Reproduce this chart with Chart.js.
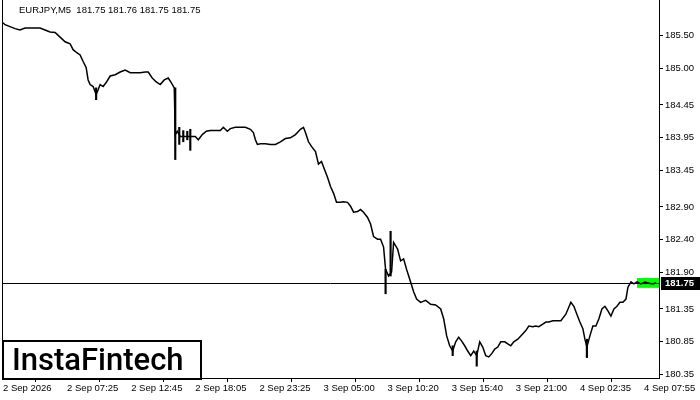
<!DOCTYPE html>
<html>
<head>
<meta charset="utf-8">
<script src="https://cdn.jsdelivr.net/npm/chart.js@4.4.1/dist/chart.umd.min.js"></script>
<style>
  html, body { margin: 0; padding: 0; background: #fff; }
  #wrap { width: 700px; height: 400px; }
</style>
</head>
<body>
<div id="wrap"><canvas id="price-chart" width="700" height="400"></canvas></div>
<script>
// Chart data (bar index = one M5 bar)
const symbolTitle = "EURJPY,M5  181.75 181.76 181.75 181.75";
const lastPrice = 181.75;

const timeTickIdx = [0, 64, 128, 192, 256, 320, 384, 448, 512, 576, 640];
const timeTickLabels = ["2 Sep 2026", "2 Sep 07:25", "2 Sep 12:45", "2 Sep 18:05", "2 Sep 23:25",
  "3 Sep 05:00", "3 Sep 10:20", "3 Sep 15:40", "3 Sep 21:00", "4 Sep 02:35", "4 Sep 07:55"];
const priceTicks = [185.50, 185.00, 184.45, 183.95, 183.45, 182.90, 182.40, 181.90, 181.35, 180.85, 180.35];

// closes
const barIdx = [0, 2, 7, 12, 17, 22, 27, 32, 37, 42, 47, 52, 57, 62, 67, 70, 74, 77, 80, 83,
  85, 87, 90, 93, 95, 97, 100, 103, 107, 112, 117, 122, 127, 132, 137, 142, 145, 149, 153, 157,
  161, 165, 168, 171, 172, 174, 177, 182, 187, 192, 195, 199, 203, 207, 212, 217, 220, 224, 227, 232,
  237, 242, 247, 250, 252, 254, 257, 262, 267, 272, 277, 282, 287, 292, 297, 300, 302, 305, 308, 312,
  315, 318, 321, 324, 327, 330, 333, 337, 340, 344, 347, 350, 354, 357, 360, 364, 367, 370, 374, 377,
  380, 382, 385, 388, 390, 394, 397, 400, 403, 407, 410, 413, 417, 422, 427, 432, 437, 440, 443, 446,
  449, 452, 455, 458, 461, 464, 467, 470, 473, 476, 479, 482, 485, 488, 491, 494, 497, 501, 504, 507,
  510, 514, 517, 522, 525, 529, 532, 535, 539, 542, 545, 549, 552, 557, 562, 565, 567, 570, 573, 576,
  579, 581, 583, 586, 589, 592, 595, 598, 601, 604, 607, 610, 613, 616, 619, 622, 624, 627, 630, 633,
  637, 641, 645, 649, 652];
const closePrice = [185.70, 185.67, 185.64, 185.61, 185.59, 185.62, 185.62, 185.62, 185.62, 185.59, 185.56, 185.55, 185.48, 185.41, 185.38, 185.29, 185.24, 185.21, 185.11, 185.02,
  184.83, 184.76, 184.73, 184.61, 184.68, 184.76, 184.73, 184.79, 184.89, 184.91, 184.95, 184.98, 184.94, 184.94, 184.94, 184.95, 184.95, 184.86, 184.80, 184.76,
  184.83, 184.86, 184.79, 184.71, 184.00, 184.05, 183.97, 183.97, 183.97, 183.97, 183.92, 184.00, 184.05, 184.06, 184.06, 184.06, 184.11, 184.05, 184.09, 184.11,
  184.11, 184.11, 184.08, 184.03, 183.92, 183.85, 183.86, 183.86, 183.85, 183.85, 183.89, 183.94, 183.95, 184.00, 184.08, 184.11, 184.03, 183.89, 183.82, 183.74,
  183.55, 183.59, 183.47, 183.35, 183.21, 183.11, 182.97, 182.97, 182.98, 182.97, 182.91, 182.82, 182.83, 182.86, 182.82, 182.74, 182.64, 182.45, 182.41, 182.41,
  182.29, 181.95, 181.85, 181.91, 182.36, 182.26, 182.08, 182.11, 181.95, 181.76, 181.61, 181.50, 181.45, 181.48, 181.42, 181.41, 181.35, 181.20, 180.94, 180.79,
  180.71, 180.85, 180.92, 180.86, 180.79, 180.71, 180.64, 180.71, 180.64, 180.85, 180.77, 180.64, 180.62, 180.67, 180.74, 180.77, 180.85, 180.85, 180.82, 180.79,
  180.85, 180.89, 180.94, 181.02, 181.09, 181.08, 181.09, 181.08, 181.12, 181.15, 181.15, 181.17, 181.17, 181.17, 181.27, 181.38, 181.45, 181.39, 181.27, 181.15,
  181.05, 180.89, 180.77, 180.94, 181.09, 181.09, 181.20, 181.35, 181.39, 181.32, 181.24, 181.35, 181.39, 181.45, 181.45, 181.50, 181.68, 181.76, 181.73, 181.76,
  181.73, 181.76, 181.74, 181.73, 181.75];

// a few visible high/low wicks
const wickIdx = [93, 172, 176, 180, 184, 187, 382, 387, 449, 473, 583];
const wickLow = [184.53, 183.62, 183.85, 183.89, 183.92, 183.76, 181.58, 181.85, 180.64, 180.48, 180.61];
const wickHigh = [184.71, 184.71, 184.11, 184.06, 184.05, 184.08, 181.95, 182.53, 180.79, 180.71, 180.89];

// green quote band at the right end
const bandFromIdx = 633;
const bandHigh = 181.82;
const bandLow = 181.67;

const textFont = "'Liberation Sans', Arial, sans-serif";

// Draws frame, price line, quote band, title and logo
const decorPlugin = {
  id: 'decor',
  beforeDatasetsDraw(chart) {
    const { ctx, chartArea, scales } = chart;
    ctx.save();
    // quote band
    const bx = scales.x.getPixelForValue(bandFromIdx);
    const by1 = scales.y.getPixelForValue(bandHigh);
    const by2 = scales.y.getPixelForValue(bandLow);
    ctx.fillStyle = '#00ff00';
    ctx.fillRect(bx, by1, chartArea.right - bx, by2 - by1);
    // price line
    const py = Math.round(scales.y.getPixelForValue(lastPrice)) + 0.5;
    ctx.strokeStyle = '#000';
    ctx.lineWidth = 1;
    ctx.beginPath();
    ctx.moveTo(chartArea.left, py);
    ctx.lineTo(chartArea.right, py);
    ctx.stroke();
    ctx.restore();
  },
  afterDraw(chart) {
    const { ctx, chartArea, scales } = chart;
    ctx.save();
    // left frame line
    ctx.strokeStyle = '#000';
    ctx.lineWidth = 1;
    ctx.beginPath();
    ctx.moveTo(chartArea.left + 0.5, chartArea.top);
    ctx.lineTo(chartArea.left + 0.5, chartArea.bottom);
    ctx.stroke();

    // last price tag
    const py = Math.round(scales.y.getPixelForValue(lastPrice));
    ctx.fillStyle = '#000';
    ctx.fillRect(chartArea.right + 2, py - 6, 700 - chartArea.right - 2, 13);
    ctx.fillStyle = '#fff';
    ctx.font = 'bold 9.5px ' + textFont;
    ctx.textBaseline = 'middle';
    ctx.textAlign = 'left';
    ctx.fillText(lastPrice.toFixed(2), chartArea.right + 6, py + 0.5);

    // title
    ctx.fillStyle = '#000';
    ctx.font = '9.5px ' + textFont;
    ctx.fillText(symbolTitle, 19, 10);

    // logo box
    ctx.fillStyle = '#fff';
    ctx.fillRect(2, 340, 199, 38);
    ctx.strokeStyle = '#000';
    ctx.lineWidth = 2;
    ctx.strokeRect(3, 341, 198, 38);
    ctx.fillStyle = '#000';
    ctx.font = '500 31px Roboto, ' + textFont;
    ctx.textBaseline = 'alphabetic';
    ctx.fillText('InstaFintech', 12, 370);
    ctx.restore();
  }
};

const chartCanvas = document.getElementById('price-chart');
const chartInstance = new Chart(chartCanvas.getContext('2d'), {
  type: 'line',
  data: {
    datasets: [{
      label: 'EURJPY',
      data: barIdx.map((x, i) => ({ x: x, y: closePrice[i] })),
      borderColor: '#000',
      borderWidth: 1.5,
      pointRadius: 0,
      tension: 0,
      fill: false
    }, {
      type: 'bar',
      label: 'wicks',
      data: wickIdx.map((x, i) => ({ x: x, y: [wickLow[i], wickHigh[i]] })),
      backgroundColor: '#000',
      borderWidth: 0,
      barThickness: 1.5
    }]
  },
  options: {
    responsive: false,
    animation: false,
    events: [],
    layout: { padding: { left: 2, top: 0, right: 0, bottom: 0 } },
    plugins: {
      legend: { display: false },
      tooltip: { enabled: false }
    },
    scales: {
      x: {
        type: 'linear',
        min: -1,
        max: 655,
        offset: false,
        afterBuildTicks: (scale) => { scale.ticks = timeTickIdx.map(v => ({ value: v })); },
        afterFit: (scale) => { scale.height = 22; scale.paddingLeft = 0; scale.paddingRight = 0; },
        grid: { display: true, drawOnChartArea: false, drawTicks: true, tickLength: 4, color: '#000' },
        border: { display: true, color: '#000' },
        ticks: {
          autoSkip: false,
          maxRotation: 0,
          align: 'start',
          padding: 1,
          color: '#000',
          font: { family: textFont, size: 9.5 },
          callback: (value) => timeTickLabels[timeTickIdx.indexOf(value)]
        }
      },
      y: {
        position: 'right',
        min: 180.30,
        max: 186.045,
        afterBuildTicks: (scale) => { scale.ticks = priceTicks.map(v => ({ value: v })); },
        afterFit: (scale) => { scale.width = 41; scale.paddingTop = 0; scale.paddingBottom = 0; },
        grid: { display: true, drawOnChartArea: false, drawTicks: true, tickLength: 4, color: '#000' },
        border: { display: true, color: '#000' },
        ticks: {
          padding: 2,
          color: '#000',
          font: { family: textFont, size: 9.5 },
          callback: (value) => value.toFixed(2)
        }
      }
    }
  },
  plugins: [decorPlugin]
});
</script>
</body>
</html>
